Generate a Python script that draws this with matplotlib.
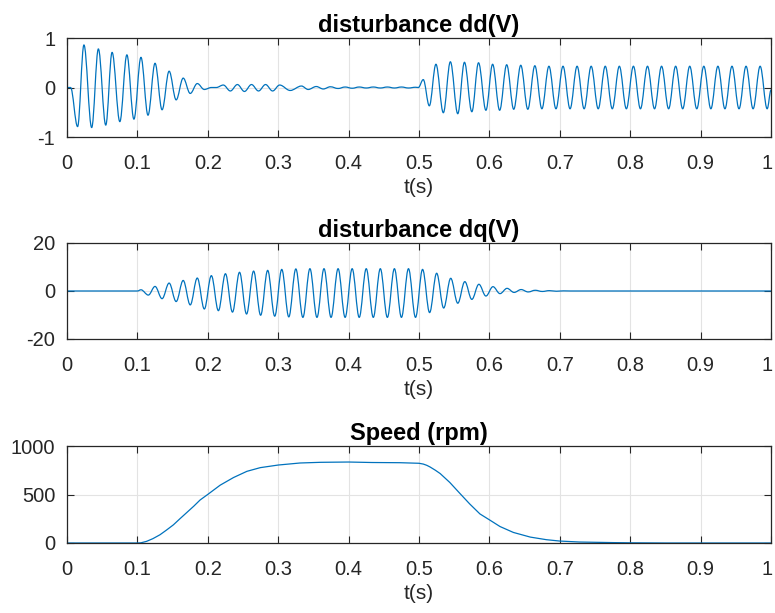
import numpy as np
import matplotlib
matplotlib.use('Agg')
import matplotlib.pyplot as plt
import matplotlib.transforms as mtransforms
from matplotlib.path import Path
from matplotlib.patches import PathPatch

plt.rcParams['font.family'] = ['Liberation Sans', 'DejaVu Sans']
plt.rcParams['axes.unicode_minus'] = False

# disturbance dd(V): turning points (peaks / troughs)
dd_t_start = [0, 0.005, 0.015, 0.024, 0.035, 0.0445, 0.055, 0.064, 0.075, 0.085,
              0.095, 0.105, 0.115, 0.125, 0.135, 0.145, 0.155, 0.165, 0.175,
              0.185, 0.195, 0.205, 0.212]
dd_v_start = [0, 0, -0.79, 0.86, -0.81, 0.78, -0.76, 0.71, -0.69, 0.66,
              -0.64, 0.61, -0.56, 0.49, -0.45, 0.33, -0.25, 0.19, -0.12,
              0.08, -0.04, 0.0, 0.0]

dd_t_ripple = [0.222, 0.232, 0.242, 0.252, 0.262, 0.272, 0.282, 0.292, 0.302,
               0.317, 0.333, 0.3425, 0.354, 0.364, 0.374, 0.385, 0.395, 0.405,
               0.415, 0.425, 0.435, 0.445, 0.455, 0.465, 0.475, 0.485, 0.495,
               0.499]
dd_v_ripple = [0.05, -0.07, 0.06, -0.08, 0.06, -0.07, 0.06, -0.07, 0.05,
               -0.06, 0.03, -0.04, 0.02, -0.03, 0.015, -0.02, 0.01, -0.015,
               0.01, -0.01, 0.01, -0.01, 0.01, -0.01, 0.01, -0.01, 0.005,
               0.0]

dd_t_step = [0.506, 0.5146, 0.524, 0.5345, 0.5445, 0.555, 0.5645, 0.575,
             0.5845, 0.595, 0.6045, 0.6145, 0.6245, 0.6345, 0.6445, 0.6545,
             0.6645]
dd_v_step = [0.16, -0.37, 0.47, -0.51, 0.52, -0.53, 0.51, -0.49,
             0.50, -0.46, 0.47, -0.46, 0.46, -0.44, 0.45, -0.44,
             0.44]

dd_t_steady = [0.6745, 0.6845, 0.6945, 0.7045, 0.7145, 0.7245, 0.7345, 0.7445,
               0.7545, 0.7645, 0.7745, 0.7845, 0.7945, 0.8045, 0.8145, 0.8245,
               0.8345, 0.8445, 0.8545, 0.8645, 0.8745, 0.8845, 0.8945, 0.9045,
               0.9145, 0.9245, 0.9345, 0.9445, 0.9545, 0.9645, 0.9745, 0.9845,
               0.9945, 1.0]
dd_v_steady = [-0.43, 0.43, -0.43, 0.43, -0.43, 0.43, -0.43, 0.43,
               -0.43, 0.43, -0.43, 0.43, -0.43, 0.43, -0.43, 0.43,
               -0.43, 0.43, -0.43, 0.43, -0.43, 0.43, -0.43, 0.43,
               -0.43, 0.43, -0.43, 0.43, -0.43, 0.43, -0.43, 0.43,
               -0.43, -0.05]

# disturbance dq(V): turning points
dq_t = [0, 0.1, 0.105, 0.1155, 0.125, 0.135, 0.145, 0.155, 0.165, 0.175,
        0.185, 0.195, 0.205, 0.215, 0.225, 0.235, 0.245, 0.255, 0.265, 0.275,
        0.285, 0.295, 0.305, 0.315, 0.325, 0.335, 0.345, 0.355, 0.365, 0.375,
        0.385, 0.395, 0.405, 0.415, 0.425, 0.435, 0.445, 0.455, 0.465, 0.475,
        0.485, 0.495, 0.505, 0.515, 0.525, 0.535, 0.545, 0.555, 0.565, 0.575,
        0.585, 0.595, 0.605, 0.615, 0.625, 0.635, 0.645, 0.655, 0.665, 0.675,
        0.685, 0.695, 0.705, 0.715, 1.0]
dq_v = [0, 0, 0.5, -1.7, 1.9, -3.2, 3.3, -4.4, 4.4, -5.8,
        5.4, -7.5, 6.4, -8.2, 7.2, -8.8, 7.8, -9.6, 8.3, -10.1,
        8.6, -10.5, 9.0, -10.8, 9.2, -11.0, 9.3, -11.0, 9.3, -11.0,
        9.3, -11.0, 9.3, -11.0, 9.3, -11.0, 9.3, -11.0, 9.3, -11.0,
        9.3, -11.0, 9.0, -9.0, 7.4, -7.1, 5.3, -5.1, 3.9, -3.5,
        2.8, -2.1, 1.8, -1.1, 1.1, -0.6, 0.6, -0.4, 0.3, -0.2,
        0.15, -0.1, 0.05, 0, 0]

# Speed (rpm)
speed_t = [0, 0.1, 0.105, 0.113, 0.122, 0.132, 0.141, 0.151, 0.160, 0.170,
           0.180, 0.189, 0.2, 0.2175, 0.2365, 0.2555, 0.2745, 0.3, 0.331,
           0.36, 0.4, 0.433, 0.473, 0.5, 0.506, 0.511, 0.5156, 0.523, 0.53,
           0.5437, 0.558, 0.572, 0.5865, 0.6, 0.615, 0.634, 0.658, 0.681,
           0.7, 0.728, 0.776, 0.8, 0.85, 1.0]
speed_v = [0, 0, 2, 17, 45, 85, 132, 187, 248, 314,
           380, 444, 502, 597, 676, 740, 778, 805, 826,
           833, 836, 831, 829, 823, 815, 802, 785, 752, 717,
           625, 512, 403, 300, 239, 170, 109, 61, 34,
           20, 10, 4, 2, 0, 0]

dd_t = dd_t_start + dd_t_ripple + dd_t_step + dd_t_steady
dd_v = dd_v_start + dd_v_ripple + dd_v_step + dd_v_steady

xticks = [0, 0.1, 0.2, 0.3, 0.4, 0.5, 0.6, 0.7, 0.8, 0.9, 1]
xlabels = ['0', '0.1', '0.2', '0.3', '0.4', '0.5', '0.6', '0.7', '0.8', '0.9', '1']

blue = '#0072BD'
dark = '#262626'


def turning_point_curve(ax, t, v):
    # smooth curve through the turning points (flat tangent at each one),
    # drawn as cubic Bezier segments in data coordinates
    k = 0.364
    verts = [(t[0], v[0])]
    codes = [Path.MOVETO]
    for i in range(1, len(t)):
        dt = t[i] - t[i - 1]
        verts += [(t[i - 1] + k * dt, v[i - 1]), (t[i] - k * dt, v[i]), (t[i], v[i])]
        codes += [Path.CURVE4] * 3
    ax.add_patch(PathPatch(Path(verts, codes), fill=False, edgecolor=blue,
                           lw=0.9, capstyle='round', joinstyle='round'))


panels = [
    (dd_t, dd_v, 'disturbance dd(V)', (-1, 1), [-1, 0, 1], ['-1', '0', '1'], True),
    (dq_t, dq_v, 'disturbance dq(V)', (-20, 20), [-20, 0, 20], ['-20', '0', '20'], True),
    (speed_t, speed_v, 'Speed (rpm)', (0, 1000), [0, 500, 1000], ['0', '500', '1000'], False),
]

fig = plt.figure(figsize=(7.75, 6.13), dpi=100)
boxes = [[0.0865, 0.7765, 0.9084, 0.1615],
         [0.0865, 0.4470, 0.9084, 0.1566],
         [0.0865, 0.1142, 0.9084, 0.1580]]

# nudge the last x tick label ("1") left so it stays inside the figure
nudge = mtransforms.ScaledTranslation(-4 / 100, 0, fig.dpi_scale_trans)

for box, (t, v, title, ylim, yt, yl, wave) in zip(boxes, panels):
    ax = fig.add_axes(box)
    if wave:
        turning_point_curve(ax, t, v)
    else:
        ax.plot(t, v, color=blue, lw=0.9, solid_joinstyle='round')
    ax.set_xlim(0, 1)
    ax.set_ylim(*ylim)
    ax.set_xticks(xticks)
    ax.set_xticklabels(xlabels)
    ax.set_yticks(yt)
    ax.set_yticklabels(yl)
    ax.grid(True, color='#e3e3e3', lw=0.8)
    ax.set_axisbelow(True)
    ax.tick_params(direction='in', length=5, width=0.8, colors=dark,
                   top=True, right=True, labelsize=14.5)
    ax.tick_params(axis='x', pad=12)
    ax.tick_params(axis='y', pad=8.5)
    last = ax.get_xticklabels()[-1]
    last.set_transform(last.get_transform() + nudge)
    for s in ax.spines.values():
        s.set_color(dark)
        s.set_linewidth(0.9)
    ax.set_title(title, fontsize=17, fontweight='bold', color='black', pad=4.5)
    ax.set_xlabel('t(s)', fontsize=15, color=dark, labelpad=3.5)

fig.savefig('out.png', dpi=100)
